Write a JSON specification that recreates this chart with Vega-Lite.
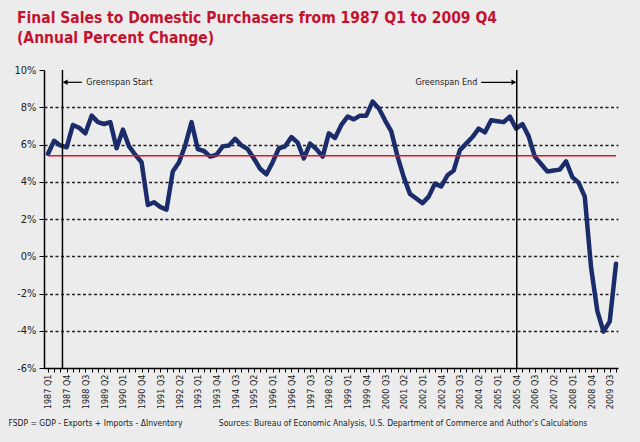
{
  "$schema": "https://vega.github.io/schema/vega-lite/v6.json",
  "width": 574,
  "height": 298,
  "autosize": {"type": "none"},
  "padding": {"left": 44, "top": 70, "right": 22, "bottom": 74},
  "background": "#ececec",
  "title": {
    "text": ["Final Sales to Domestic Purchasers from 1987 Q1 to 2009 Q4", "(Annual Percent Change)"],
    "anchor": "start",
    "frame": "group",
    "dx": -27,
    "offset": 18,
    "color": "#c4122f",
    "font": "DejaVu Sans Condensed, DejaVu Sans, sans-serif",
    "fontSize": 15.5,
    "fontWeight": "bold",
    "lineHeight": 20
  },
  "config": {
    "view": {"stroke": null},
    "font": "DejaVu Sans Condensed, DejaVu Sans, sans-serif"
  },
  "datasets": {
    "sales": [
      {"date": "1987-01-01", "y": 5.5}, {"date": "1987-04-01", "y": 6.2}, {"date": "1987-07-01", "y": 5.95}, {"date": "1987-10-01", "y": 5.85},
      {"date": "1988-01-01", "y": 7.05}, {"date": "1988-04-01", "y": 6.9}, {"date": "1988-07-01", "y": 6.6}, {"date": "1988-10-01", "y": 7.55},
      {"date": "1989-01-01", "y": 7.2}, {"date": "1989-04-01", "y": 7.1}, {"date": "1989-07-01", "y": 7.2}, {"date": "1989-10-01", "y": 5.8},
      {"date": "1990-01-01", "y": 6.8}, {"date": "1990-04-01", "y": 5.9}, {"date": "1990-07-01", "y": 5.45}, {"date": "1990-10-01", "y": 5.05},
      {"date": "1991-01-01", "y": 2.75}, {"date": "1991-04-01", "y": 2.9}, {"date": "1991-07-01", "y": 2.65}, {"date": "1991-10-01", "y": 2.5},
      {"date": "1992-01-01", "y": 4.55}, {"date": "1992-04-01", "y": 5.05}, {"date": "1992-07-01", "y": 5.95}, {"date": "1992-10-01", "y": 7.2},
      {"date": "1993-01-01", "y": 5.75}, {"date": "1993-04-01", "y": 5.65}, {"date": "1993-07-01", "y": 5.35}, {"date": "1993-10-01", "y": 5.45},
      {"date": "1994-01-01", "y": 5.9}, {"date": "1994-04-01", "y": 5.95}, {"date": "1994-07-01", "y": 6.3}, {"date": "1994-10-01", "y": 5.95},
      {"date": "1995-01-01", "y": 5.75}, {"date": "1995-04-01", "y": 5.25}, {"date": "1995-07-01", "y": 4.7}, {"date": "1995-10-01", "y": 4.4},
      {"date": "1996-01-01", "y": 5.05}, {"date": "1996-04-01", "y": 5.8}, {"date": "1996-07-01", "y": 5.9}, {"date": "1996-10-01", "y": 6.4},
      {"date": "1997-01-01", "y": 6.1}, {"date": "1997-04-01", "y": 5.25}, {"date": "1997-07-01", "y": 6.05}, {"date": "1997-10-01", "y": 5.75},
      {"date": "1998-01-01", "y": 5.35}, {"date": "1998-04-01", "y": 6.6}, {"date": "1998-07-01", "y": 6.35}, {"date": "1998-10-01", "y": 7.05},
      {"date": "1999-01-01", "y": 7.5}, {"date": "1999-04-01", "y": 7.35}, {"date": "1999-07-01", "y": 7.55}, {"date": "1999-10-01", "y": 7.55},
      {"date": "2000-01-01", "y": 8.3}, {"date": "2000-04-01", "y": 7.95}, {"date": "2000-07-01", "y": 7.3}, {"date": "2000-10-01", "y": 6.7},
      {"date": "2001-01-01", "y": 5.35}, {"date": "2001-04-01", "y": 4.25}, {"date": "2001-07-01", "y": 3.35}, {"date": "2001-10-01", "y": 3.1},
      {"date": "2002-01-01", "y": 2.85}, {"date": "2002-04-01", "y": 3.2}, {"date": "2002-07-01", "y": 3.9}, {"date": "2002-10-01", "y": 3.75},
      {"date": "2003-01-01", "y": 4.35}, {"date": "2003-04-01", "y": 4.6}, {"date": "2003-07-01", "y": 5.7}, {"date": "2003-10-01", "y": 6.05},
      {"date": "2004-01-01", "y": 6.4}, {"date": "2004-04-01", "y": 6.85}, {"date": "2004-07-01", "y": 6.65}, {"date": "2004-10-01", "y": 7.3},
      {"date": "2005-01-01", "y": 7.25}, {"date": "2005-04-01", "y": 7.2}, {"date": "2005-07-01", "y": 7.5}, {"date": "2005-10-01", "y": 6.85},
      {"date": "2006-01-01", "y": 7.1}, {"date": "2006-04-01", "y": 6.45}, {"date": "2006-07-01", "y": 5.35}, {"date": "2006-10-01", "y": 4.95},
      {"date": "2007-01-01", "y": 4.55}, {"date": "2007-04-01", "y": 4.6}, {"date": "2007-07-01", "y": 4.65}, {"date": "2007-10-01", "y": 5.1},
      {"date": "2008-01-01", "y": 4.25}, {"date": "2008-04-01", "y": 3.95}, {"date": "2008-07-01", "y": 3.2}, {"date": "2008-10-01", "y": -0.6},
      {"date": "2009-01-01", "y": -2.95}, {"date": "2009-04-01", "y": -4.05}, {"date": "2009-07-01", "y": -3.5}, {"date": "2009-10-01", "y": -0.4}
    ],
    "average": [{"date": "1987-01-01", "end": "2009-10-01", "y": 5.4}],
    "tenure": [{"date": "1987-08-01", "y": -6, "y2": 10}, {"date": "2005-10-10", "y": -6, "y2": 10}],
    "arrows": [
      {"date": "1987-08-20", "end": "1988-05-10", "y": 9.34},
      {"date": "2004-05-07", "end": "2005-09-20", "y": 9.34}
    ],
    "heads": [
      {"date": "1987-09-10", "y": 9.34, "shape": "triangle-left"},
      {"date": "2005-08-28", "y": 9.34, "shape": "triangle-right"}
    ],
    "notes": [
      {"date": "1988-07-15", "y": 9.34, "label": "Greenspan Start", "align": "left"},
      {"date": "2004-03-13", "y": 9.34, "label": "Greenspan End", "align": "right"}
    ]
  },
  "encoding": {
    "x": {
      "type": "temporal",
      "scale": {
        "type": "utc",
        "nice": false,
        "domain": [{"year": 1986, "month": 11, "date": 4, "utc": true}, {"year": 2009, "month": 10, "date": 30, "utc": true}]
      },
      "axis": {
        "values": [
          {"year": 1987, "quarter": 1, "utc": true}, {"year": 1987, "quarter": 2, "utc": true}, {"year": 1987, "quarter": 3, "utc": true}, {"year": 1987, "quarter": 4, "utc": true},
          {"year": 1988, "quarter": 1, "utc": true}, {"year": 1988, "quarter": 2, "utc": true}, {"year": 1988, "quarter": 3, "utc": true}, {"year": 1988, "quarter": 4, "utc": true},
          {"year": 1989, "quarter": 1, "utc": true}, {"year": 1989, "quarter": 2, "utc": true}, {"year": 1989, "quarter": 3, "utc": true}, {"year": 1989, "quarter": 4, "utc": true},
          {"year": 1990, "quarter": 1, "utc": true}, {"year": 1990, "quarter": 2, "utc": true}, {"year": 1990, "quarter": 3, "utc": true}, {"year": 1990, "quarter": 4, "utc": true},
          {"year": 1991, "quarter": 1, "utc": true}, {"year": 1991, "quarter": 2, "utc": true}, {"year": 1991, "quarter": 3, "utc": true}, {"year": 1991, "quarter": 4, "utc": true},
          {"year": 1992, "quarter": 1, "utc": true}, {"year": 1992, "quarter": 2, "utc": true}, {"year": 1992, "quarter": 3, "utc": true}, {"year": 1992, "quarter": 4, "utc": true},
          {"year": 1993, "quarter": 1, "utc": true}, {"year": 1993, "quarter": 2, "utc": true}, {"year": 1993, "quarter": 3, "utc": true}, {"year": 1993, "quarter": 4, "utc": true},
          {"year": 1994, "quarter": 1, "utc": true}, {"year": 1994, "quarter": 2, "utc": true}, {"year": 1994, "quarter": 3, "utc": true}, {"year": 1994, "quarter": 4, "utc": true},
          {"year": 1995, "quarter": 1, "utc": true}, {"year": 1995, "quarter": 2, "utc": true}, {"year": 1995, "quarter": 3, "utc": true}, {"year": 1995, "quarter": 4, "utc": true},
          {"year": 1996, "quarter": 1, "utc": true}, {"year": 1996, "quarter": 2, "utc": true}, {"year": 1996, "quarter": 3, "utc": true}, {"year": 1996, "quarter": 4, "utc": true},
          {"year": 1997, "quarter": 1, "utc": true}, {"year": 1997, "quarter": 2, "utc": true}, {"year": 1997, "quarter": 3, "utc": true}, {"year": 1997, "quarter": 4, "utc": true},
          {"year": 1998, "quarter": 1, "utc": true}, {"year": 1998, "quarter": 2, "utc": true}, {"year": 1998, "quarter": 3, "utc": true}, {"year": 1998, "quarter": 4, "utc": true},
          {"year": 1999, "quarter": 1, "utc": true}, {"year": 1999, "quarter": 2, "utc": true}, {"year": 1999, "quarter": 3, "utc": true}, {"year": 1999, "quarter": 4, "utc": true},
          {"year": 2000, "quarter": 1, "utc": true}, {"year": 2000, "quarter": 2, "utc": true}, {"year": 2000, "quarter": 3, "utc": true}, {"year": 2000, "quarter": 4, "utc": true},
          {"year": 2001, "quarter": 1, "utc": true}, {"year": 2001, "quarter": 2, "utc": true}, {"year": 2001, "quarter": 3, "utc": true}, {"year": 2001, "quarter": 4, "utc": true},
          {"year": 2002, "quarter": 1, "utc": true}, {"year": 2002, "quarter": 2, "utc": true}, {"year": 2002, "quarter": 3, "utc": true}, {"year": 2002, "quarter": 4, "utc": true},
          {"year": 2003, "quarter": 1, "utc": true}, {"year": 2003, "quarter": 2, "utc": true}, {"year": 2003, "quarter": 3, "utc": true}, {"year": 2003, "quarter": 4, "utc": true},
          {"year": 2004, "quarter": 1, "utc": true}, {"year": 2004, "quarter": 2, "utc": true}, {"year": 2004, "quarter": 3, "utc": true}, {"year": 2004, "quarter": 4, "utc": true},
          {"year": 2005, "quarter": 1, "utc": true}, {"year": 2005, "quarter": 2, "utc": true}, {"year": 2005, "quarter": 3, "utc": true}, {"year": 2005, "quarter": 4, "utc": true},
          {"year": 2006, "quarter": 1, "utc": true}, {"year": 2006, "quarter": 2, "utc": true}, {"year": 2006, "quarter": 3, "utc": true}, {"year": 2006, "quarter": 4, "utc": true},
          {"year": 2007, "quarter": 1, "utc": true}, {"year": 2007, "quarter": 2, "utc": true}, {"year": 2007, "quarter": 3, "utc": true}, {"year": 2007, "quarter": 4, "utc": true},
          {"year": 2008, "quarter": 1, "utc": true}, {"year": 2008, "quarter": 2, "utc": true}, {"year": 2008, "quarter": 3, "utc": true}, {"year": 2008, "quarter": 4, "utc": true},
          {"year": 2009, "quarter": 1, "utc": true}, {"year": 2009, "quarter": 2, "utc": true}, {"year": 2009, "quarter": 3, "utc": true}, {"year": 2009, "quarter": 4, "utc": true}
        ],
        "labelExpr": "((utcyear(datum.value)-1987)*4 + floor(utcmonth(datum.value)/3)) % 3 == 0 ? utcyear(datum.value) + ' Q' + (floor(utcmonth(datum.value)/3)+1) : ''",
        "labelAngle": 270,
        "labelFontSize": 9,
        "labelColor": "#222222",
        "labelOverlap": false,
        "labelPadding": 2,
        "labelBound": false,
        "labelFlush": false,
        "grid": false,
        "domainColor": "#000000",
        "domainWidth": 1.5,
        "tickColor": "#000000",
        "tickSize": 4,
        "title": "FSDP = GDP - Exports + Imports - ΔInventory\u00a0\u00a0\u00a0\u00a0\u00a0\u00a0\u00a0\u00a0\u00a0\u00a0\u00a0\u00a0\u00a0\u00a0\u00a0Sources: Bureau of Economic Analysis, U.S. Department of Commerce and Author's Calculations",
        "titleAnchor": "start",
        "titleAlign": "left",
        "titleBaseline": "alphabetic",
        "titleX": -36,
        "titleY": 57,
        "titleFontSize": 8.5,
        "titleFontWeight": "normal",
        "titleColor": "#222222"
      }
    },
    "y": {
      "field": "y",
      "type": "quantitative",
      "scale": {"domain": [-6, 10], "nice": false, "zero": false},
      "axis": {
        "values": [-6, -4, -2, 0, 2, 4, 6, 8, 10],
        "tickCount": 9,
        "labelOverlap": false,
        "labelExpr": "datum.value + '%'",
        "labelFontSize": 11,
        "labelColor": "#222222",
        "labelPadding": 3,
        "grid": true,
        "gridDash": [3, 2.5],
        "gridWidth": 1.3,
        "gridColor": {"condition": {"test": "datum.value == 10 || datum.value == -6", "value": "transparent"}, "value": "#222222"},
        "domainColor": "#000000",
        "domainWidth": 1.5,
        "tickColor": "#000000",
        "tickSize": 5,
        "title": null
      }
    }
  },
  "layer": [
    {
      "data": {"name": "sales"},
      "mark": {"type": "line", "color": "#1b2c6b", "strokeWidth": 4.5, "strokeJoin": "round", "strokeCap": "round"},
      "encoding": {
        "x": {"field": "date", "type": "temporal"}
      }
    },
    {
      "data": {"name": "average"},
      "mark": {"type": "rule", "color": "#e8102a", "strokeWidth": 1.5},
      "encoding": {
        "x": {"field": "date", "type": "temporal"},
        "x2": {"field": "end"}
      }
    },
    {
      "data": {"name": "tenure"},
      "mark": {"type": "rule", "color": "#000000", "strokeWidth": 1.5},
      "encoding": {
        "x": {"field": "date", "type": "temporal"},
        "y2": {"field": "y2"}
      }
    },
    {
      "data": {"name": "arrows"},
      "mark": {"type": "rule", "color": "#000000", "strokeWidth": 1.2},
      "encoding": {
        "x": {"field": "date", "type": "temporal"},
        "x2": {"field": "end"}
      }
    },
    {
      "data": {"name": "heads"},
      "mark": {"type": "point", "filled": true, "color": "#000000", "size": 30, "opacity": 1},
      "encoding": {
        "x": {"field": "date", "type": "temporal"},
        "shape": {"field": "shape", "type": "nominal", "scale": null}
      }
    },
    {
      "data": {"name": "notes"},
      "transform": [{"filter": "datum.align == 'left'"}],
      "mark": {"type": "text", "align": "left", "baseline": "middle", "fontSize": 9, "color": "#222222"},
      "encoding": {
        "x": {"field": "date", "type": "temporal"},
        "text": {"field": "label"}
      }
    },
    {
      "data": {"name": "notes"},
      "transform": [{"filter": "datum.align == 'right'"}],
      "mark": {"type": "text", "align": "right", "baseline": "middle", "fontSize": 9, "color": "#222222"},
      "encoding": {
        "x": {"field": "date", "type": "temporal"},
        "text": {"field": "label"}
      }
    }
  ]
}
